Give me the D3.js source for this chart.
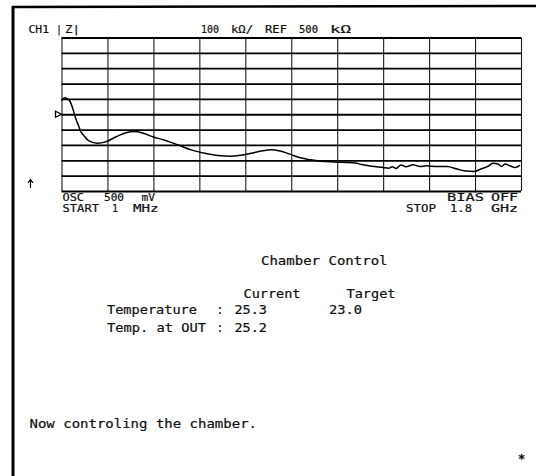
<!DOCTYPE html>
<html>
<head>
<meta charset="utf-8">
<script src="https://cdn.jsdelivr.net/npm/d3@7"></script>
<style>
  html, body { margin: 0; padding: 0; background: #fff; }
  svg { display: block; }
  text { font-family: "DejaVu Sans Mono", "Liberation Mono", monospace; fill: #111; stroke: #111; stroke-width: 0.2; }
</style>
</head>
<body>
<svg id="chart" width="536" height="476"></svg>
<script>
// |Z| sweep, 1 MHz .. 1.8 GHz, impedance in kOhm
const freqMHz = [1, 5, 14, 24, 33, 48, 57, 68, 77, 87, 107, 141, 174, 213, 253, 289, 321, 361, 402, 454,
  508, 562, 614, 668, 710, 749, 789, 823, 856, 895, 936, 976, 1016, 1070, 1151, 1176, 1215, 1255,
  1284, 1296, 1311, 1330, 1350, 1377, 1404, 1429, 1471, 1510, 1550, 1577, 1616, 1643, 1670, 1690,
  1710, 1724, 1737, 1757, 1777, 1796];
const impedanceK = [588, 597, 608, 600, 588, 522, 470, 425, 385, 364, 328, 311, 320, 352, 380, 388, 376, 352,
  332, 302, 268, 246, 231, 227, 234, 248, 262, 268, 260, 240, 216, 203, 194, 189, 183, 172, 161, 154,
  149, 158, 147, 169, 158, 171, 160, 164, 160, 160, 143, 132, 127, 143, 160, 180, 176, 160, 176, 164,
  153, 169];

// Display settings
const refLevelK = 500;
const perDivK = 100;
const xTicksMHz = d3.range(0, 11).map(i => 1 + i * 179.9);
const yTicksK = d3.range(0, 11).map(i => i * perDivK);

// Chamber readout
const chamberCurrent = ["25.3", "25.2"];
const chamberTarget = ["23.0"];

const svg = d3.select("#chart");

// Page frame: left and top rules
svg.append("line").attr("x1", 13).attr("x2", 13).attr("y1", 6).attr("y2", 476)
  .attr("stroke", "#000").attr("stroke-width", 3);
svg.append("line").attr("x1", 12).attr("x2", 536).attr("y1", 7).attr("y2", 6)
  .attr("stroke", "#000").attr("stroke-width", 2.5);

const L = 61.5, R = 521, T = 37.5, B = 191;
const x = d3.scaleLinear().domain([1, 1800]).range([L, R]);
const y = d3.scaleLinear().domain([0, 2 * refLevelK]).range([B, T]);

// Graticule
const gx = svg.append("g").attr("transform", `translate(0,${B})`)
  .call(d3.axisBottom(x).tickValues(xTicksMHz).tickSize(-(B - T)).tickFormat(""));
gx.select(".domain").remove();
gx.selectAll(".tick line").attr("stroke", "#1a1a1a").attr("stroke-width", 1.1);

const gy = svg.append("g").attr("transform", `translate(${L},0)`)
  .call(d3.axisLeft(y).tickValues(yTicksK).tickSize(-(R - L)).tickFormat(""));
gy.select(".domain").remove();
gy.selectAll(".tick line").attr("stroke", "#000").attr("stroke-width", 1.8);

// Trace
const line = d3.line().x((d, i) => x(freqMHz[i])).y(d => y(d)).curve(d3.curveMonotoneX);
svg.append("path").datum(impedanceK).attr("d", line)
  .attr("fill", "none").attr("stroke", "#000").attr("stroke-width", 1.5)
  .attr("stroke-linejoin", "round");

// Reference level marker
const ry = y(refLevelK);
svg.append("path").attr("d", `M${L - 6},${ry - 3}L${L},${ry}L${L - 6},${ry + 3}Z`)
  .attr("fill", "#fff").attr("stroke", "#000").attr("stroke-width", 1.3);

// Scale arrow
svg.append("path").attr("d", "M30.5,188V180M28,183L30.5,179.5L33,183")
  .attr("fill", "none").attr("stroke", "#000").attr("stroke-width", 1.2);

function label(str, x0, x1, yb, size) {
  const t = svg.append("text").attr("x", x0).attr("y", yb).attr("font-size", size).text(str);
  if (str.length > 1) t.attr("textLength", x1 - x0).attr("lengthAdjust", "spacingAndGlyphs");
}

// Instrument annotations
label("CH1", 28.5, 49, 33, 10);
label("|", 56, 61, 33, 10);
label("Z|", 65, 80, 33, 10);
label("100", 201, 219, 33, 10);
label("kΩ/", 231, 253, 33, 10);
label("REF", 265, 287, 33, 10);
label(String(refLevelK), 299, 318, 33, 10);
label("kΩ", 330, 351, 33, 10);

label("OSC", 62.5, 84, 201, 10);
label("500", 104, 124, 201, 10);
label("mV", 141.5, 155, 201, 10);
label("START", 62.5, 99, 212, 10);
label("1", 112, 117, 212, 10);
label("MHz", 133, 158.5, 212, 10);

label("BIAS", 447, 484, 201, 10);
label("OFF", 491, 518, 201, 10);
label("STOP", 406, 436, 212, 10);
label("1.8", 450, 472, 212, 10);
label("GHz", 491, 518, 212, 10);

// Chamber control panel
label("Chamber Control", 261, 387.5, 265, 11.5);
label("Current", 243.5, 300.5, 298, 11.5);
label("Target", 346.5, 395.5, 298, 11.5);
label("Temperature", 107, 197, 314, 11.5);
label(":", 216.5, 222, 314, 11.5);
label(chamberCurrent[0], 234.5, 267, 314, 11.5);
label(chamberTarget[0], 329, 362, 314, 11.5);
label("Temp. at OUT", 107, 206, 332, 11.5);
label(":", 216.5, 222, 332, 11.5);
label(chamberCurrent[1], 234.5, 267, 332, 11.5);

label("Now controling the chamber.", 29.5, 257, 428, 11.5);
svg.append("text").attr("x", 521.5).attr("y", 463).attr("font-size", 12)
  .attr("text-anchor", "middle").attr("font-weight", "bold").text("*");
</script>
</body>
</html>
